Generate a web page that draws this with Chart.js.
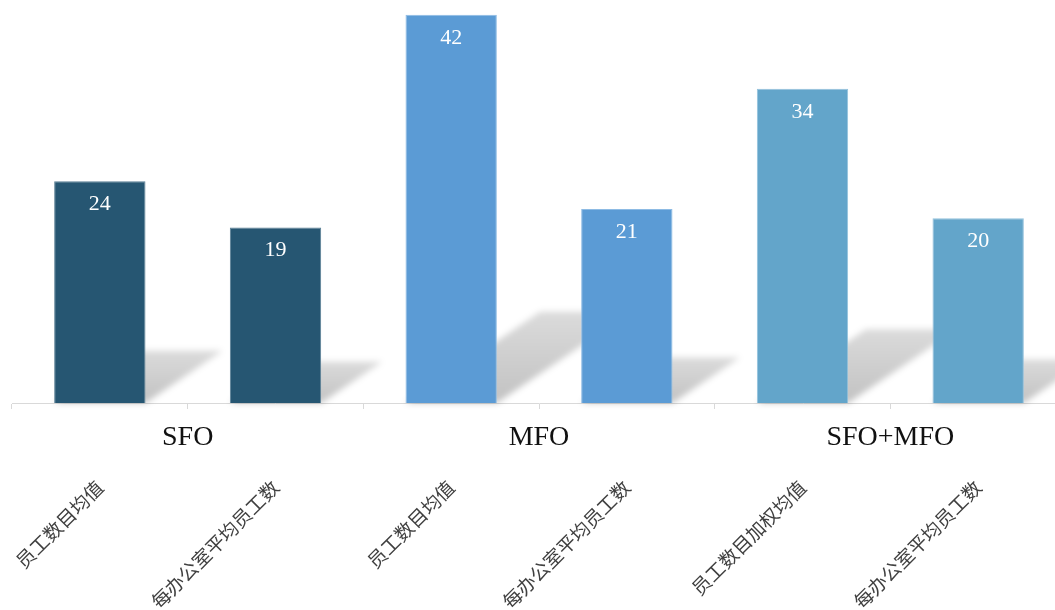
<!DOCTYPE html>
<html>
<head>
<meta charset="utf-8">
<script src="https://cdn.jsdelivr.net/npm/chart.js@4.4.1/dist/chart.umd.min.js"></script>
<style>
  html, body { margin: 0; padding: 0; background: #fff; overflow: hidden; }
  #wrap { width: 1055px; height: 610px; overflow: hidden; }
</style>
</head>
<body>
<div id="wrap"><canvas id="staff" width="1066" height="610"></canvas></div>
<script>
const categories = [
    '员工数目均值',
    '每办公室平均员工数',
    '员工数目均值',
    '每办公室平均员工数',
    '员工数目加权均值',
    '每办公室平均员工数'
];
const groups = ['SFO', 'MFO', 'SFO+MFO'];
const values = [24, 19, 42, 21, 34, 20];
const barColors = ['#265672', '#265672', '#5b9bd5', '#5b9bd5', '#63a5ca', '#63a5ca'];
const borderColors = ['#5a7f95', '#5a7f95', '#8dbbe4', '#8dbbe4', '#92c1dc', '#92c1dc'];

const serif = '"Liberation Serif", "DejaVu Serif", serif';

// skewed drop shadow behind each bar
const barShadow = {
    id: 'barShadow',
    beforeDatasetsDraw(chart) {
        const ctx = chart.ctx;
        const meta = chart.getDatasetMeta(0);
        ctx.save();
        ctx.filter = 'blur(3px)';
        meta.data.forEach(bar => {
            const left = bar.x - bar.width / 2;
            const right = bar.x + bar.width / 2;
            const h = bar.base - bar.y;
            const dx = h * 0.347;
            const dy = h * 0.235;
            const g = ctx.createLinearGradient(0, bar.base, 0, bar.base - dy);
            g.addColorStop(0, 'rgba(0,0,0,0.24)');
            g.addColorStop(1, 'rgba(0,0,0,0.14)');
            ctx.fillStyle = g;
            ctx.beginPath();
            ctx.moveTo(left, bar.base);
            ctx.lineTo(right, bar.base);
            ctx.lineTo(right + dx, bar.base - dy);
            ctx.lineTo(left + dx, bar.base - dy);
            ctx.closePath();
            ctx.fill();
        });
        ctx.restore();
    }
};

// value text inside the top of each bar
const barValues = {
    id: 'barValues',
    afterDatasetsDraw(chart) {
        const ctx = chart.ctx;
        const meta = chart.getDatasetMeta(0);
        const data = chart.data.datasets[0].data;
        ctx.save();
        ctx.fillStyle = '#ffffff';
        ctx.font = '22px ' + serif;
        ctx.textAlign = 'center';
        ctx.textBaseline = 'middle';
        meta.data.forEach((bar, i) => {
            ctx.fillText(String(data[i]), bar.x, bar.y + 23);
        });
        ctx.restore();
    }
};

// group names centred under each pair of bars
const groupLabels = {
    id: 'groupLabels',
    afterDraw(chart) {
        const ctx = chart.ctx;
        const x = chart.scales.x;
        ctx.save();
        ctx.fillStyle = '#111111';
        ctx.font = '28px ' + serif;
        ctx.textAlign = 'center';
        ctx.textBaseline = 'middle';
        groups.forEach((name, i) => {
            ctx.fillText(name, x.getPixelForValue(i * 2 + 0.5), x.top + 35);
        });
        ctx.restore();
    }
};

new Chart(document.getElementById('staff'), {
    type: 'bar',
    data: {
        labels: categories,
        datasets: [{
            data: values,
            backgroundColor: barColors,
            borderColor: borderColors,
            borderWidth: 1,
            categoryPercentage: 1,
            barPercentage: 0.52
        }]
    },
    options: {
        responsive: false,
        animation: false,
        devicePixelRatio: 1,
        layout: { padding: { left: 12, right: 0, top: 0, bottom: 0 } },
        plugins: {
            legend: { display: false },
            tooltip: { enabled: false }
        },
        scales: {
            x: {
                grid: {
                    offset: true,
                    drawOnChartArea: false,
                    color: '#d9d9d9',
                    tickLength: 6
                },
                border: { color: '#d9d9d9', width: 1 },
                ticks: {
                    minRotation: 45,
                    maxRotation: 45,
                    autoSkip: false,
                    padding: 67,
                    color: '#404040',
                    font: { family: '"Noto Sans CJK SC"', size: 19 }
                },
                afterFit(scale) {
                    // rotated labels may hang past the plot edges; keep the plot full width
                    scale.height = 207;
                    scale.paddingLeft = 0;
                    scale.paddingRight = 0;
                }
            },
            y: {
                display: false,
                min: 0,
                max: 43.6
            }
        }
    },
    plugins: [barShadow, barValues, groupLabels]
});
</script>
</body>
</html>
